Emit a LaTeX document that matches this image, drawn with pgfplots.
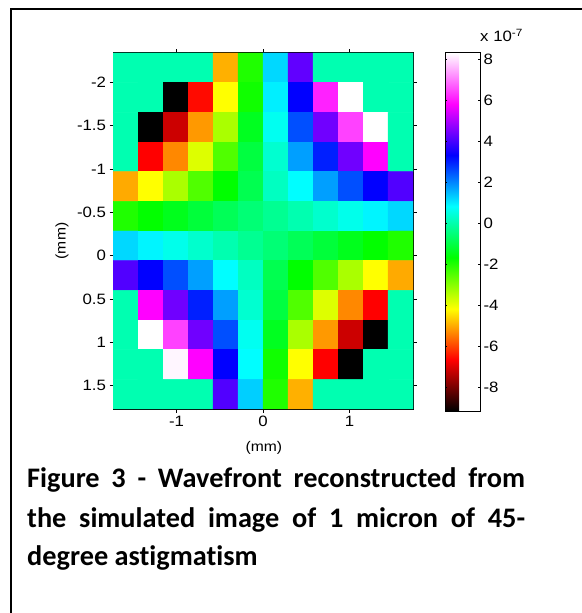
\documentclass[border=0pt]{standalone}
\usepackage{fontspec}
\setmainfont{Liberation Sans}[FakeStretch=1.12]
\newfontfamily\capfont{Carlito}[Ligatures=NoCommon]
\usepackage{pgfplots}
\usepackage{pgfplotstable}
\pgfplotsset{compat=1.18}

\pgfplotstableread{
c r v
0 0 0.05
1 0 0.05
2 0 0.05
3 0 0.05
4 0 -4.93
5 0 -1.98
6 0 1.20
7 0 4.25
8 0 0.05
9 0 0.05
10 0 0.05
11 0 0.05
0 1 0.05
1 1 0.05
2 1 -9.14
3 1 -6.55
4 1 -4.16
5 1 -1.83
6 1 0.97
7 1 3.31
8 1 6.11
9 1 8.29
10 1 0.05
11 1 0.05
0 2 0.05
1 2 -9.14
2 2 -7.15
3 2 -5.16
4 2 -3.33
5 2 -1.36
6 2 0.68
7 2 2.53
8 2 4.40
9 2 6.43
10 2 8.29
11 2 0.05
0 3 0.05
1 3 -6.65
2 3 -5.32
3 3 -3.83
4 3 -2.45
5 3 -1.05
6 3 0.36
7 3 1.75
8 3 3.00
9 3 4.40
10 3 5.80
11 3 0.05
0 4 -4.99
1 4 -4.16
2 4 -3.33
3 4 -2.45
4 4 -1.67
5 4 -0.89
6 4 0.21
7 4 0.82
8 4 1.75
9 4 2.53
10 4 3.31
11 4 4.09
0 5 -1.98
1 5 -1.69
2 5 -1.40
3 5 -1.11
4 5 -0.82
5 5 -0.53
6 5 -0.25
7 5 0.04
8 5 0.33
9 5 0.62
10 5 0.91
11 5 1.20
0 6 1.20
1 6 0.91
2 6 0.62
3 6 0.33
4 6 0.04
5 6 -0.25
6 6 -0.53
7 6 -0.82
8 6 -1.11
9 6 -1.40
10 6 -1.69
11 6 -1.98
0 7 4.09
1 7 3.31
2 7 2.53
3 7 1.75
4 7 0.82
5 7 0.21
6 7 -0.89
7 7 -1.67
8 7 -2.45
9 7 -3.33
10 7 -4.16
11 7 -4.99
0 8 0.05
1 8 5.80
2 8 4.40
3 8 3.00
4 8 1.75
5 8 0.36
6 8 -1.05
7 8 -2.45
8 8 -3.83
9 8 -5.32
10 8 -6.65
11 8 0.05
0 9 0.05
1 9 8.29
2 9 6.43
3 9 4.40
4 9 2.53
5 9 0.68
6 9 -1.36
7 9 -3.33
8 9 -5.16
9 9 -7.15
10 9 -9.14
11 9 0.05
0 10 0.05
1 10 0.05
2 10 8.19
3 10 5.80
4 10 3.31
5 10 0.82
6 10 -1.83
7 10 -4.16
8 10 -6.65
9 10 -9.14
10 10 0.05
11 10 0.05
0 11 0.05
1 11 0.05
2 11 0.05
3 11 0.05
4 11 4.09
5 11 1.28
6 11 -1.98
7 11 -4.93
8 11 0.05
9 11 0.05
10 11 0.05
11 11 0.05
}\wavefront

\begin{document}
\begin{tikzpicture}[x=1pt,y=1pt]
\useasboundingbox (0,0) rectangle (581,613);
\draw[line width=2pt] (11,-2) -- (11,604) -- (583,604);
\begin{axis}[
  at={(113pt,204pt)}, anchor=south west,
  scale only axis, width=300pt, height=356pt,
  xmin=-1.735, xmax=1.735, ymin=-2.34, ymax=1.77, y dir=reverse,
  xtick={-1,0,1}, xticklabels={-1,0,1},
  ytick={-2,-1.5,-1,-0.5,0,0.5,1,1.5},
  yticklabels={-2,-1.5,-1,-0.5,0,0.5,1,1.5},
  xtick pos=both, ytick pos=both, xticklabel pos=lower, yticklabel pos=left,
  tick align=outside, major tick length=3.5pt,
  tick style={black, line width=0.6pt},
  axis line style={line width=1pt},
  tick label style={font=\fontsize{15}{17}\selectfont},
  label style={font=\fontsize{14}{16}\selectfont},
  xlabel={(mm)}, ylabel={(mm)},
  xlabel style={at={(axis description cs:0.503,-0.11)}, anchor=center},
  ylabel style={at={(axis description cs:-0.17,0.472)}, anchor=center},
  colormap={wf}{rgb255=(0,0,0) rgb255=(255,0,0) rgb255=(255,255,0) rgb255=(0,255,0) rgb255=(0,255,255) rgb255=(0,0,255) rgb255=(255,0,255) rgb255=(255,255,255)},
  point meta min=-9.14, point meta max=8.29,
  colorbar,
  colorbar style={
    at={(1.1067,1)}, anchor=north west,
    scale only axis, width=35pt, height=358pt,
    ytick={-8,-6,-4,-2,0,2,4,6,8},
    yticklabels={-8,-6,-4,-2,0,2,4,6,8},
    ytick pos=both, yticklabel pos=right,
    tick align=inside, major tick length=2pt,
    tick style={black, line width=0.6pt},
    axis line style={line width=1pt},
    tick label style={font=\fontsize{15}{17}\selectfont},
  },
]
\addplot[matrix plot*, mesh/cols=12, point meta=explicit]
  table[x expr={-1.5904+0.2892*\thisrow{c}}, y expr={-2.169+0.3425*\thisrow{r}}, meta=v] {\wavefront};
\end{axis}
\node[anchor=base west, inner sep=0, font=\fontsize{15}{17}\selectfont] at (480,571) {x 10\textsuperscript{-7}};
\node[anchor=base west, inner sep=0] at (27,125) {\capfont\bfseries\fontsize{28.3}{39}\selectfont\makebox[498pt][s]{Figure 3 - Wavefront reconstructed from}};
\node[anchor=base west, inner sep=0] at (27,85) {\capfont\bfseries\fontsize{28.3}{39}\selectfont\makebox[498pt][s]{the simulated image of 1 micron of 45-}};
\node[anchor=base west, inner sep=0] at (27,47) {\capfont\bfseries\fontsize{28.3}{39}\selectfont degree astigmatism};
\end{tikzpicture}
\end{document}
